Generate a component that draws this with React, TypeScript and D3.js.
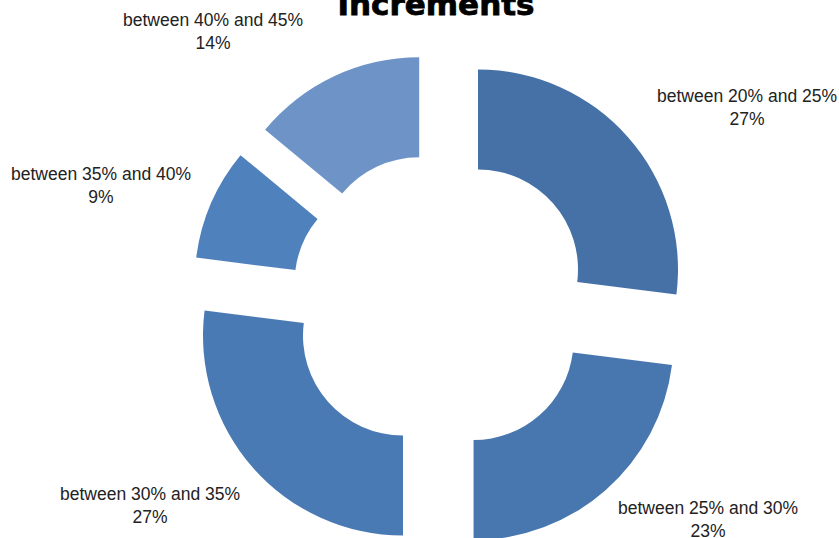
import React from "react";
import * as d3 from "d3";

const categories = [
  "between 20% and 25%",
  "between 25% and 30%",
  "between 30% and 35%",
  "between 35% and 40%",
  "between 40% and 45%",
];
const values = [27, 23, 27, 9, 14];
const valueLabels = ["27%", "23%", "27%", "9%", "14%"];
const colors = ["#4571A7", "#4876AE", "#4A7AB4", "#4F81BD", "#6E94C7"];
const labelPos: [number, number][] = [
  [747, 96],
  [708, 508],
  [150, 494],
  [101, 174],
  [213, 20],
];
const title = "Increments";

export default function App() {
  const W = 839;
  const H = 538;
  const cx = 440.5;
  const cy = 302.5;
  const ro = 200;
  const ri = 100;
  const explode = 50;

  const pie = d3
    .pie<number>()
    .sort(null)
    .value((d) => d)
    .startAngle(0)
    .endAngle(2 * Math.PI);
  const arcs = pie(values);
  const arc = d3.arc<d3.PieArcDatum<number>>().innerRadius(ri).outerRadius(ro);

  return (
    <svg
      width={W}
      height={H}
      style={{ position: "absolute", left: 0, top: 0, background: "#fff" }}
    >
      <g transform={`translate(${cx},${cy})`}>
        {arcs.map((a, i) => {
          const mid = (a.startAngle + a.endAngle) / 2;
          const dx = explode * Math.sin(mid);
          const dy = -explode * Math.cos(mid);
          return (
            <path
              key={i}
              d={arc(a) || ""}
              fill={colors[i]}
              transform={`translate(${dx},${dy})`}
            />
          );
        })}
      </g>
      {categories.map((c, i) => (
        <g key={c} fontFamily="'Liberation Sans', Arial, sans-serif" fontSize={17.5} fill="#222">
          <text x={labelPos[i][0]} y={labelPos[i][1]} textAnchor="middle" dominantBaseline="central">
            {c}
          </text>
          <text x={labelPos[i][0]} y={labelPos[i][1] + 23} textAnchor="middle" dominantBaseline="central">
            {valueLabels[i]}
          </text>
        </g>
      ))}
      <text
        x={436}
        y={15}
        textAnchor="middle"
        fontFamily="'DejaVu Sans', sans-serif"
        fontWeight="bold"
        fontSize={31}
        fill="#000"
        stroke="#000"
        strokeWidth={0.8}
      >
        {title}
      </text>
    </svg>
  );
}
